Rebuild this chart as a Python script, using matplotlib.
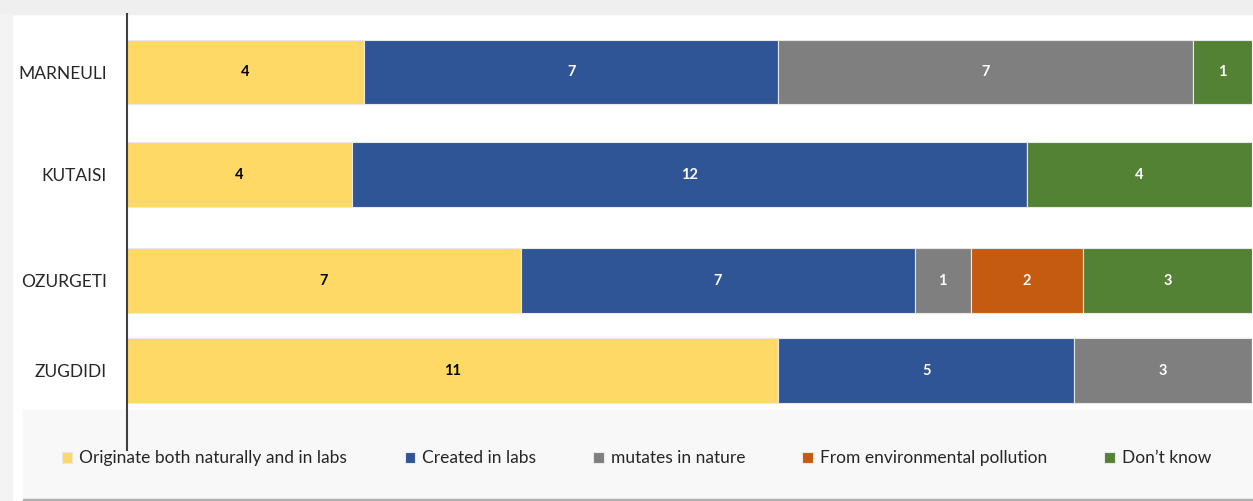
import numpy as np
import matplotlib.pyplot as plt
from matplotlib.patches import Rectangle

plt.rcParams['font.family'] = ['Lato', 'DejaVu Sans']

cities = ['MARNEULI', 'KUTAISI', 'OZURGETI', 'ZUGDIDI']
series = ['Originate both naturally and in labs', 'Created in labs',
          'mutates in nature', 'From environmental pollution', 'Don\u2019t know']
both_nature_labs = [4, 4, 7, 11]
created_labs = [7, 12, 7, 5]
mutates_nature = [7, 0, 1, 3]
env_pollution = [0, 0, 2, 0]
dont_know = [1, 4, 3, 0]

colors = ['#FFD966', '#2F5597', '#7F7F7F', '#C55A11', '#548235']
label_colors = ['black', 'white', 'white', 'white', 'white']

values = np.array([both_nature_labs, created_labs, mutates_nature,
                   env_pollution, dont_know], dtype=float)
totals = values.sum(axis=0)
shares = values / totals

# row centres (layout only, bars are not evenly spaced in the original)
ypos = [0.72, 1.745, 2.805, 3.705]
bar_h = 0.645

fig = plt.figure(figsize=(12.53, 5.01), dpi=100)

# light frame / legend panel
fig.patches.append(Rectangle((0, 0.973), 1, 0.027, transform=fig.transFigure,
                             color='#efefef', zorder=0))
fig.patches.append(Rectangle((0, 0), 0.0096, 0.973, transform=fig.transFigure,
                             color='#f3f3f3', zorder=0))
fig.patches.append(Rectangle((0.0184, 0.006), 0.99, 0.176, transform=fig.transFigure,
                             color='#f8f8f8', zorder=0))
fig.patches.append(Rectangle((0.0184, 0.0), 0.99, 0.003, transform=fig.transFigure,
                             color='#b0b0b0', zorder=0))

ax = fig.add_axes([127 / 1253, 51 / 501, 1125 / 1253, 436 / 501])
ax.patch.set_alpha(0)
ax.set_zorder(2)

left = np.zeros(len(cities))
for k, name in enumerate(series):
    bars = ax.barh(ypos, shares[k], left=left, height=bar_h, color=colors[k],
                   edgecolor='#e8e8e8', linewidth=0.8, label=name)
    for j, b in enumerate(bars):
        if values[k, j] > 0:
            ax.text(left[j] + shares[k, j] / 2, ypos[j], f'{int(values[k, j])}',
                    ha='center', va='center', fontsize=10.5, fontweight='bold',
                    color=label_colors[k])
    left += shares[k]

ax.set_xlim(0, 1)
ax.set_ylim(4.50, 0.14)
ax.set_yticks(ypos)
ax.set_yticklabels(cities, fontsize=12.5, color='#262626')
ax.tick_params(axis='y', length=0, pad=14.5)
ax.set_xticks([])
for s in ['top', 'right', 'bottom']:
    ax.spines[s].set_visible(False)
ax.spines['left'].set_color('#404040')
ax.spines['left'].set_linewidth(1.5)

handles, labels = ax.get_legend_handles_labels()
fig.legend(handles, labels, loc='center', bbox_to_anchor=(0.508, 0.085), ncol=5,
           frameon=False, fontsize=12.5, handlelength=0.6, handleheight=0.6,
           handletextpad=0.4, columnspacing=3.3, labelcolor='#262626')

fig.savefig('out.png', dpi=100)
